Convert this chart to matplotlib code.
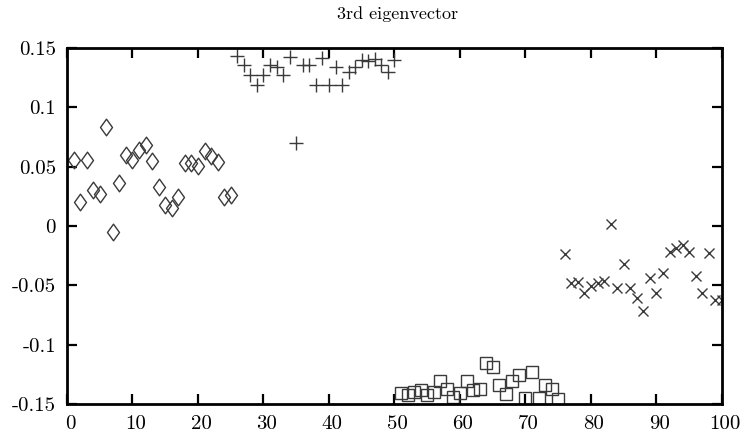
import numpy as np
import matplotlib
matplotlib.use("Agg")
import matplotlib.pyplot as plt
from matplotlib.path import Path
from matplotlib.transforms import ScaledTranslation

plt.rcParams["font.family"] = ["cmr10", "DejaVu Serif"]

# Component values of the 3rd eigenvector, grouped into four clusters
idx_a = list(range(1, 26))
val_a = [0.0556, 0.0205, 0.0556, 0.0304, 0.0270, 0.0837, -0.0053, 0.0365,
         0.0599, 0.0556, 0.0640, 0.0680, 0.0548, 0.0326, 0.0177, 0.0149,
         0.0242, 0.0529, 0.0529, 0.0506, 0.0632, 0.0590, 0.0542, 0.0247,
         0.0261]

idx_b = list(range(26, 51))
val_b = [0.1433, 0.1360, 0.1270, 0.1186, 0.1276, 0.1360, 0.1340, 0.1276,
         0.1425, 0.0700, 0.1360, 0.1360, 0.1190, 0.1417, 0.1190, 0.1340,
         0.1190, 0.1300, 0.1340, 0.1397, 0.1390, 0.1410, 0.1360, 0.1300,
         0.1397]

idx_c = list(range(51, 76))
val_c = [-0.1410, -0.1425, -0.1397, -0.1380, -0.1425, -0.1400, -0.1307,
         -0.1370, -0.1440, -0.1410, -0.1304, -0.1380, -0.1377, -0.1158,
         -0.1190, -0.1340, -0.1417, -0.1310, -0.1256, -0.1453, -0.1228,
         -0.1450, -0.1340, -0.1370, -0.1460]

idx_d = list(range(76, 101))
val_d = [-0.0239, -0.0483, -0.0470, -0.0568, -0.0506, -0.0478, -0.0464,
         0.0017, -0.0525, -0.0320, -0.0520, -0.0604, -0.0717, -0.0441,
         -0.0562, -0.0399, -0.0217, -0.0188, -0.0160, -0.0217, -0.0422,
         -0.0562, -0.0225, -0.0624, -0.0624]

x_ticks = [0, 10, 20, 30, 40, 50, 60, 70, 80, 90, 100]
y_ticks = [-0.15, -0.1, -0.05, 0, 0.05, 0.1, 0.15]
y_tick_labels = ["-0.15", "-0.1", "-0.05", "0", "0.05", "0.1", "0.15"]

# gnuplot-style open diamond (taller than wide)
diamond = Path([(0, 1), (0.72, 0), (0, -1), (-0.72, 0), (0, 1)],
               [Path.MOVETO, Path.LINETO, Path.LINETO, Path.LINETO, Path.CLOSEPOLY])

fig = plt.figure(figsize=(7.46, 4.41), dpi=100)
ax = fig.add_axes([0.0898, 0.0839, 0.8780, 0.8073])

mcol = "#3a3a3a"
ax.plot(idx_a, val_a, linestyle="none", marker=diamond, markersize=12,
        markerfacecolor="none", markeredgecolor=mcol, markeredgewidth=1.0)
ax.plot(idx_b, val_b, linestyle="none", marker="+", markersize=10.5,
        markeredgecolor=mcol, markeredgewidth=1.0)
ax.plot(idx_c, val_c, linestyle="none", marker="s", markersize=9,
        markerfacecolor="none", markeredgecolor=mcol, markeredgewidth=1.0)
ax.plot(idx_d, val_d, linestyle="none", marker="x", markersize=7.5,
        markeredgecolor=mcol, markeredgewidth=1.0)

ax.set_xlim(0, 100)
ax.set_ylim(-0.15, 0.15)
ax.set_xticks(x_ticks)
ax.set_xticklabels([str(t) for t in x_ticks])
ax.set_yticks(y_ticks)
ax.set_yticklabels(y_tick_labels)

for s in ax.spines.values():
    s.set_linewidth(2.0)
ax.tick_params(direction="in", length=7, width=1.6, top=True, right=True,
               labelsize=15)
ax.tick_params(axis="x", pad=8)
ax.tick_params(axis="y", pad=8)

shift = ScaledTranslation(3 / 100, 0, fig.dpi_scale_trans)
for lab in ax.get_xticklabels():
    lab.set_transform(lab.get_transform() + shift)

title = ax.set_title("3rd eigenvector", fontsize=13, pad=21)
title.set_transform(title.get_transform() + shift)

fig.savefig("out.png", dpi=100)
